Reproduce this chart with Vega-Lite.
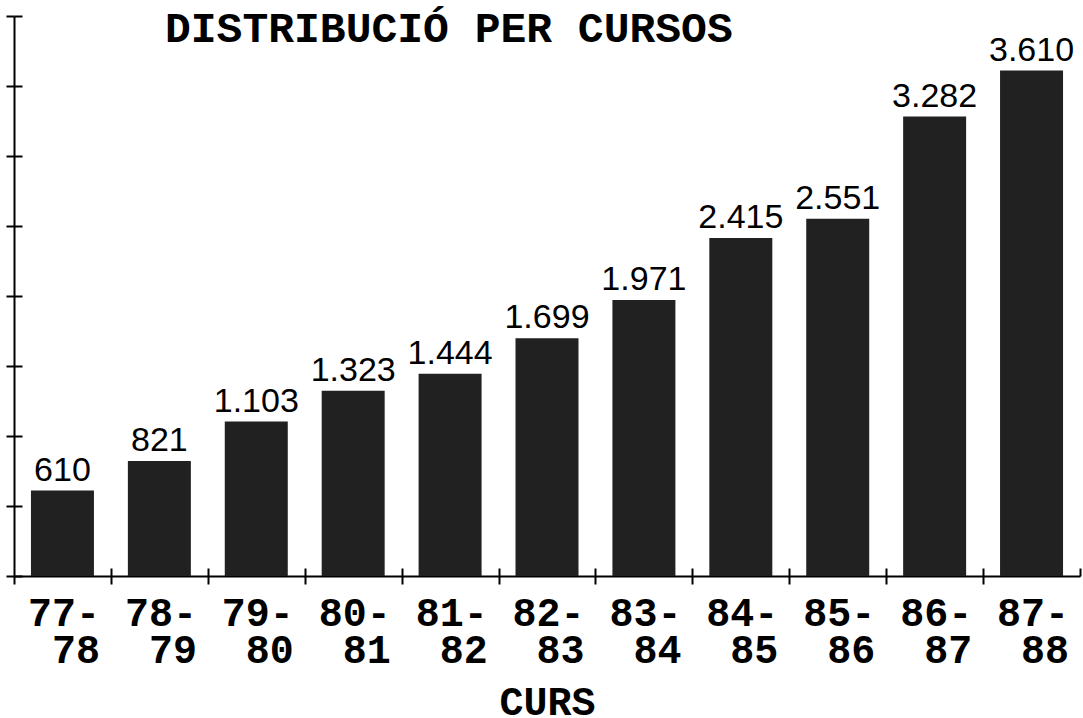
{
  "$schema": "https://vega.github.io/schema/vega-lite/v6.json",
  "width": 1066,
  "height": 560,
  "autosize": {"type": "none"},
  "padding": {"left": 14, "top": 16, "right": 3, "bottom": 142},
  "background": "white",
  "config": {
    "view": {"stroke": null},
    "locale": {"number": {"decimal": ",", "thousands": ".", "grouping": [3], "currency": ["", " €"]}}
  },
  "title": {
    "text": "DISTRIBUCIÓ PER CURSOS",
    "anchor": "start",
    "frame": "group",
    "dx": 151,
    "offset": -36,
    "font": "Liberation Mono",
    "fontSize": 43,
    "fontWeight": "bold",
    "color": "black"
  },
  "data": {
    "values": [
      {"curs": "77-78", "alumnes": 610},
      {"curs": "78-79", "alumnes": 821},
      {"curs": "79-80", "alumnes": 1103},
      {"curs": "80-81", "alumnes": 1323},
      {"curs": "81-82", "alumnes": 1444},
      {"curs": "82-83", "alumnes": 1699},
      {"curs": "83-84", "alumnes": 1971},
      {"curs": "84-85", "alumnes": 2415},
      {"curs": "85-86", "alumnes": 2551},
      {"curs": "86-87", "alumnes": 3282},
      {"curs": "87-88", "alumnes": 3610}
    ]
  },
  "layer": [
    {
      "mark": {"type": "bar", "color": "#212121"},
      "encoding": {
        "x": {
          "field": "curs", "type": "ordinal", "sort": null,
          "scale": {"paddingInner": 0.35, "paddingOuter": 0.175},
          "axis": {
            "orient": "bottom",
            "title": "CURS",
            "titleFont": "Liberation Mono",
            "titleFontSize": 40,
            "titleFontWeight": "bold",
            "titleColor": "black",
            "titlePadding": 12,
            "labelExpr": "[slice(datum.label,0,3), slice(datum.label,3)]",
            "labelAlign": "right",
            "tickOffset": -48.45,
            "labelOffset": 85.5,
            "labelAngle": 0,
            "labelFont": "Liberation Mono",
            "labelFontSize": 40,
            "labelFontWeight": "bold",
            "labelColor": "black",
            "labelLineHeight": 37,
            "labelPadding": 9,
            "tickSize": 8,
            "tickWidth": 2,
            "tickColor": "black",
            "domainColor": "black",
            "domainWidth": 2,
            "grid": false
          }
        },
        "y": {
          "field": "alumnes", "type": "quantitative",
          "scale": {"domain": [0, 4000], "nice": false},
          "axis": {
            "orient": "left",
            "title": null,
            "labels": false,
            "values": [0, 500, 1000, 1500, 2000, 2500, 3000, 3500, 4000],
            "tickSize": 8,
            "tickWidth": 2,
            "tickColor": "black",
            "domainColor": "black",
            "domainWidth": 2,
            "grid": false
          }
        }
      }
    },
    {
      "mark": {"type": "text", "baseline": "alphabetic", "dy": -10, "font": "Liberation Sans", "fontSize": 34, "color": "black"},
      "encoding": {
        "x": {
          "field": "curs", "type": "ordinal", "sort": null,
          "scale": {"paddingInner": 0.35, "paddingOuter": 0.175},
          "axis": {
            "orient": "top",
            "offset": -560,
            "title": null,
            "labels": false,
            "domain": false,
            "tickOffset": 48.45,
            "tickSize": 8,
            "tickWidth": 2,
            "tickColor": "black",
            "grid": false
          }
        },
        "y": {
          "field": "alumnes", "type": "quantitative",
          "scale": {"domain": [0, 4000], "nice": false},
          "axis": {
            "orient": "right",
            "offset": -1066,
            "title": null,
            "labels": false,
            "domain": false,
            "values": [0, 500, 1000, 1500, 2000, 2500, 3000, 3500, 4000],
            "tickSize": 8,
            "tickWidth": 2,
            "tickColor": "black",
            "grid": false
          }
        },
        "text": {"field": "alumnes", "type": "quantitative", "format": ",d"}
      }
    }
  ],
  "resolve": {"axis": {"x": "independent", "y": "independent"}}
}
